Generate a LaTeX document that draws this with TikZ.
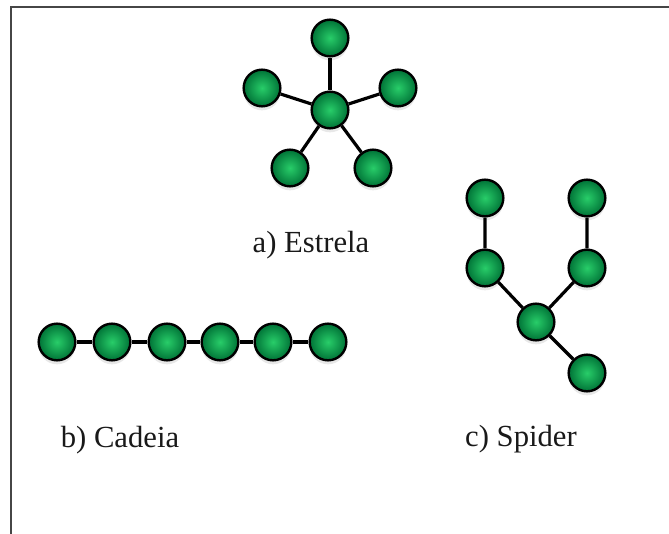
\documentclass[tikz,border=0pt]{standalone}
\usepackage{fontspec}
\setmainfont{Liberation Serif}
\newfontfamily\capfont{Liberation Serif}
\usetikzlibrary{shadows}
\definecolor{nodelight}{RGB}{40,205,105}
\definecolor{nodedark}{RGB}{0,115,55}
\definecolor{framegray}{RGB}{70,70,70}
\begin{document}
\begin{tikzpicture}[x=0.75pt,y=-0.75pt,
    vertex/.style={circle,draw=black,line width=1.8pt,minimum size=27.5pt,inner sep=0pt,
        shading=radial,inner color=nodelight,outer color=nodedark,
        drop shadow={opacity=0.18,shadow xshift=0pt,shadow yshift=-3pt}},
    link/.style={line width=2.4pt,black},
    caption/.style={font=\capfont\fontsize{23}{27}\selectfont,text=black!90}]
    \useasboundingbox (0,0) rectangle (669,534);
    %draw frame
    \draw [framegray,line width=1.6pt] (11,534) -- (11,7) -- (669,7);
    %draw star
    \node[vertex] (s0) at (330,110) {};
    \node[vertex] (s1) at (330,38) {};
    \node[vertex] (s2) at (262,88) {};
    \node[vertex] (s3) at (398,88) {};
    \node[vertex] (s4) at (290,168) {};
    \node[vertex] (s5) at (373,168) {};
    \foreach \i in {1,...,5}
        {%
            \draw [link] (s0) -- (s\i);
        }
    \node[caption] (la) at (311,245) {a) Estrela};
    %draw chain
    \foreach \i/\x in {1/57,2/112,3/167,4/220,5/273,6/328}
        {%
            \node[vertex] (c\i) at (\x,342) {};
        }
    \foreach \i/\j in {1/2,2/3,3/4,4/5,5/6}
        {%
            \draw [link] (c\i) -- (c\j);
        }
    \node[caption] (lb) at (120,440) {b) Cadeia};
    %draw spider
    \node[vertex] (p0) at (536,322) {};
    \node[vertex] (p1) at (485,268) {};
    \node[vertex] (p2) at (485,198) {};
    \node[vertex] (p3) at (587,268) {};
    \node[vertex] (p4) at (587,198) {};
    \node[vertex] (p5) at (587,373) {};
    \draw [link] (p0) -- (p1) -- (p2);
    \draw [link] (p0) -- (p3) -- (p4);
    \draw [link] (p0) -- (p5);
    \node[caption] (lc) at (521,439) {c) Spider};
\end{tikzpicture}
\end{document}
